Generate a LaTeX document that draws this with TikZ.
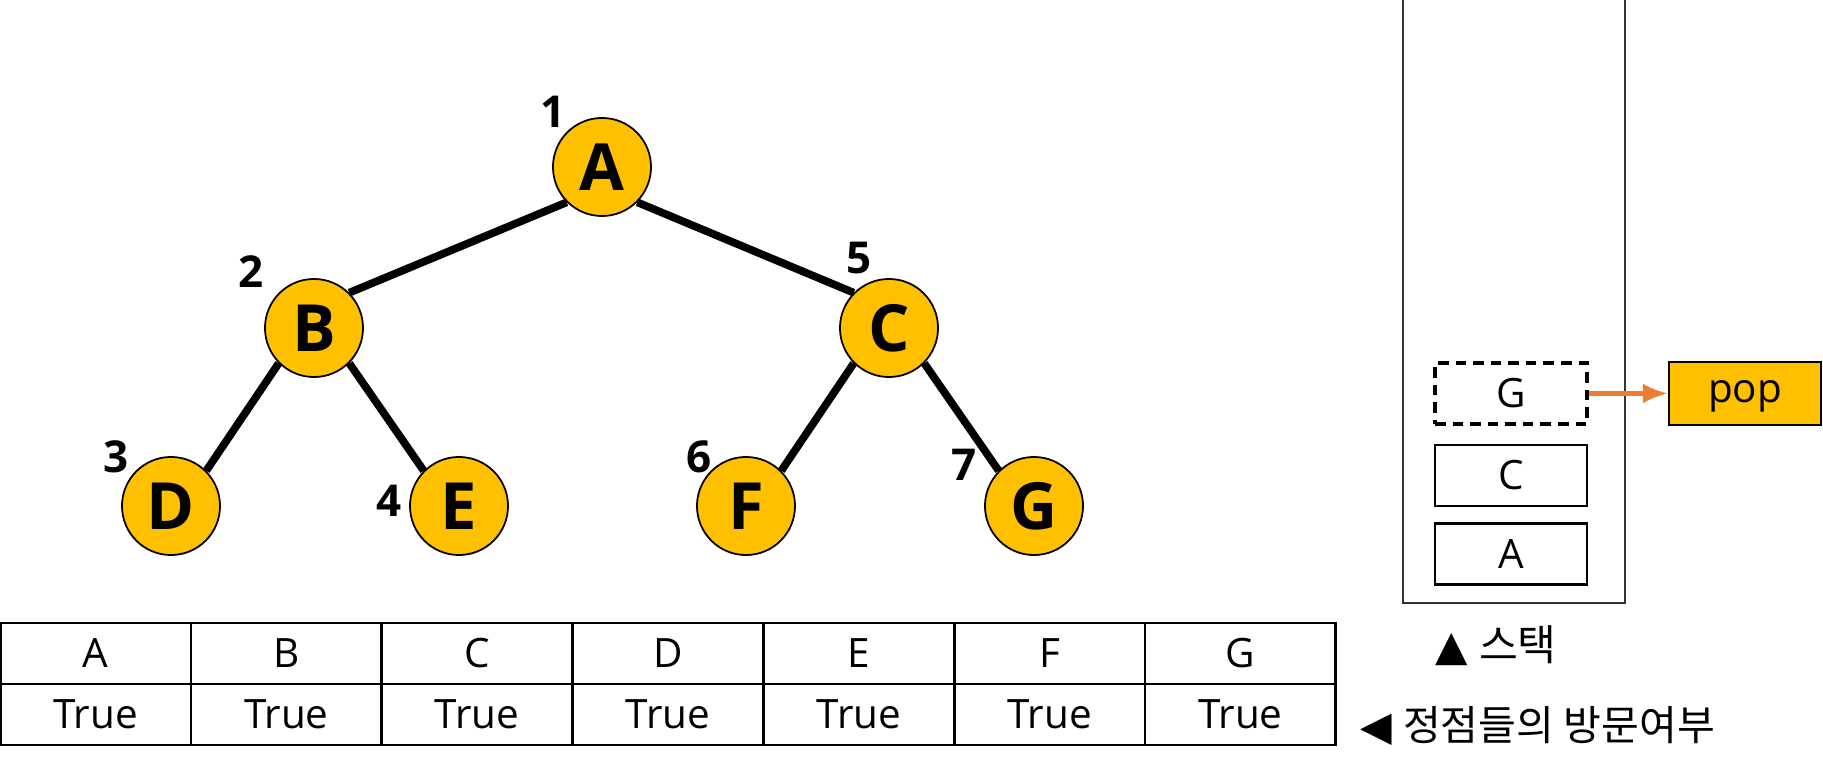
\documentclass[tikz,border=0pt]{standalone}
\usepackage{fontspec}
\setmainfont{Open Sans}
\newfontfamily\krfont{Noto Sans CJK KR}
\newfontfamily\symfont{DejaVu Sans}
\usetikzlibrary{matrix,positioning,arrows.meta}
\definecolor{nodeyellow}{HTML}{FFC000}
\definecolor{poporange}{HTML}{ED7D31}

\begin{document}
\begin{tikzpicture}[x=0.01cm,y=-0.01cm]
\tikzset{vertex/.style={circle,draw,line width=0.5pt,fill=nodeyellow,minimum size=0.98cm,inner sep=0pt,font=\fontsize{18.5}{22}\selectfont\bfseries},
  order/.style={inner sep=0pt,font=\fontsize{12.5}{14}\selectfont\bfseries},
  edge/.style={line width=2.2pt},
  cell/.style={draw,line width=0.6pt,minimum width=1.9cm,minimum height=0.605cm,inner sep=0pt,font=\fontsize{11.5}{13}\selectfont},
  item/.style={draw,line width=0.7pt,minimum width=1.52cm,minimum height=0.61cm,inner sep=0pt,font=\fontsize{11.5}{13}\selectfont}}
\useasboundingbox (0,0) rectangle (1823,770);

% tree
\node[vertex] (A) at (602,167) {A};
\node[vertex] (B) at (314,328) {B};
\node[vertex] (C) at (889,328) {C};
\node[vertex] (D) at (171,506) {D};
\node[vertex] (E) at (459,506) {E};
\node[vertex] (F) at (746,506) {F};
\node[vertex] (G) at (1034,506) {G};
\draw[edge] (A.south west) -- (B.north east) (A.south east) -- (C.north west)
  (B.south west) -- (D.north east) (B.south east) -- (E.north west)
  (C.south west) -- (F.north east) (C.south east) -- (G.north west);

% visiting order
\node[order] (nA) at ([shift={(-49,-55)}]A.center) {1};
\node[order] (nB) at ([shift={(-63,-56)}]B.center) {2};
\node[order] (nD) at ([shift={(-55,-49)}]D.center) {3};
\node[order] (nE) at ([shift={(-70,-5)}]E.center) {4};
\node[order] (nC) at ([shift={(-30,-70)}]C.center) {5};
\node[order] (nF) at ([shift={(-47,-49)}]F.center) {6};
\node[order] (nG) at ([shift={(-70,-41)}]G.center) {7};

% visited table
\matrix (visit) [matrix of nodes, nodes={cell}, column sep=-\pgflinewidth, row sep=-\pgflinewidth] at (668,684) {
A & B & C & D & E & F & G \\
True & True & True & True & True & True & True \\
};

% stack
\draw[line width=0.7pt,black!80] (1403,0) -- (1403,603) -- (1625,603) -- (1625,0);
\node[item] (sA) at (1511,554) {A};
\node[item,above=1.5mm of sA] (sC) {C};
\node[item,line width=1pt,dash pattern=on 3pt off 2pt,above=1.8mm of sC] (sG) {G};
\node[item,fill=nodeyellow,minimum height=0.63cm,text height=1ex,text depth=0pt,right=7.9mm of sG] (pop) {pop};
\draw[-{Latex[length=2.5mm,width=2mm]},poporange,line width=1.2pt] (sG.east) -- (pop.west);

\node[anchor=west,inner sep=0pt,font=\fontsize{12}{14}\selectfont] (stacklbl) at (1435,646) {{\symfont ▲}\ {\krfont 스택}};
\node[anchor=west,inner sep=0pt,font=\fontsize{11.7}{14}\selectfont] (visitlbl) at (1360,726) {{\symfont ◀}\ {\krfont 정점들의 방문여부}};
\end{tikzpicture}
\end{document}
